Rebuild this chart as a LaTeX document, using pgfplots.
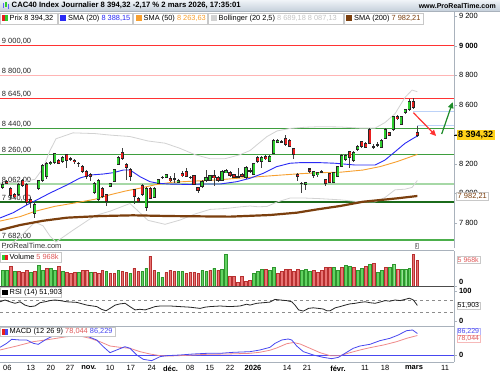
\documentclass[border=0pt]{standalone}
\usepackage{fontspec}
\setmainfont{Liberation Sans}
\usepackage{pgfplots}
\usepackage{pgfplotstable}
\pgfplotsset{compat=1.18}
\usetikzlibrary{arrows.meta}

\definecolor{cgreen}{HTML}{2ECC2E}
\definecolor{cred}{HTML}{E81E1E}
\definecolor{wick}{HTML}{404040}
\definecolor{smablue}{HTML}{2A2AF5}
\definecolor{smaorange}{HTML}{F7A030}
\definecolor{smabrown}{HTML}{7B3F0E}
\definecolor{bollgray}{HTML}{D2D2D2}
\definecolor{bolltext}{HTML}{C4C4C4}
\definecolor{axgray}{HTML}{A9B2BC}
\definecolor{boxgray}{HTML}{C8C8C8}
\definecolor{lvred}{HTML}{FF3333}
\definecolor{lvpink}{HTML}{FFB4B4}
\definecolor{lvgreen}{HTML}{3E9E3E}
\definecolor{lvlgreen}{HTML}{A6D8A6}
\definecolor{lvdgreen}{HTML}{1B6B1B}
\definecolor{lvgreenb}{HTML}{4CAF4C}
\definecolor{lblue}{HTML}{BCD2F8}
\definecolor{arrowgreen}{HTML}{1E8C2A}
\definecolor{vgreen}{HTML}{62D262}
\definecolor{vgreenE}{HTML}{2E962E}
\definecolor{vred}{HTML}{E87474}
\definecolor{vredE}{HTML}{B83030}
\definecolor{vredtext}{HTML}{E05A5A}
\definecolor{macdblue}{HTML}{4848F0}
\definecolor{macdred}{HTML}{F08A8A}
\definecolor{macdredtext}{HTML}{E05A5A}
\definecolor{ybox}{HTML}{FFD21A}
\definecolor{hdrtop}{HTML}{F0F4F8}
\definecolor{hdrbot}{HTML}{C5D0DB}

\newcommand{\fs}{\fontsize{7.5}{8}\selectfont}
\newcommand{\fl}{\fontsize{7.4}{8}\selectfont}

\pgfplotsset{panel/.style={scale only axis, anchor=south west, width=454pt,
  xmin=-0.68, xmax=113.19, axis y line*=right,
  axis line style={draw=axgray, line width=0.8pt, -},
  tick align=outside, major tick length=3pt,
  y tick style={draw=axgray, line width=0.6pt},
  yticklabel style={font=\fs, text=black, xshift=-1.5pt}}}

\pgfplotstableread{
i O H L C c
0 8040 8075 8030 8060 1
1 8080 8090 8060 8070 0
2 8030 8040 7960 7985 0
3 7990 8000 7965 7980 0
4 7990 8070 7985 8060 1
5 8085 8095 8040 8055 0
6 8060 8070 7920 7935 0
7 7960 7975 7900 7935 0
8 7865 7935 7830 7925 1
9 8030 8090 8020 8085 1
10 8090 8200 8080 8190 1
11 8115 8215 8100 8205 1
12 8205 8220 8195 8212 1
13 8210 8275 8200 8268 1
14 8225 8235 8200 8205 0
15 8215 8255 8205 8240 1
16 8265 8270 8170 8220 0
17 8235 8245 8220 8230 0
18 8225 8235 8200 8215 0
19 8205 8215 8180 8200 0
20 8185 8195 8135 8145 0
21 8150 8160 8100 8115 0
22 8130 8140 8085 8115 0
23 8005 8080 7995 8070 1
24 7960 8095 7950 8085 1
25 8035 8045 7970 7980 0
26 7990 7995 7915 7945 0
27 8045 8070 8040 8065 1
28 8080 8165 8075 8160 1
29 8195 8255 8190 8245 1
30 8275 8310 8230 8235 0
31 8195 8205 8090 8175 0
32 8160 8175 8085 8115 0
33 8025 8030 7930 7980 0
34 7965 7975 7935 7945 0
35 8050 8060 7985 7990 0
36 7905 8040 7880 8035 1
37 8035 8040 7960 7965 0
38 7975 8040 7965 8030 1
39 8070 8100 8065 8095 1
40 8105 8120 8100 8110 1
41 8110 8130 8105 8125 1
42 8100 8115 8075 8085 0
43 8095 8140 8070 8100 1
44 8075 8095 8070 8090 1
45 8135 8150 8110 8120 0
46 8150 8175 8110 8115 0
47 8110 8120 8095 8105 0
48 8120 8125 8055 8060 0
49 8040 8045 8000 8020 0
50 8045 8090 8035 8080 1
51 8085 8160 8075 8105 1
52 8090 8125 8085 8120 1
53 8120 8155 8050 8105 0
54 8110 8120 8080 8090 0
55 8090 8160 8085 8150 1
56 8140 8165 8135 8155 1
57 8140 8150 8115 8120 0
58 8125 8130 8105 8110 0
59 8112 8170 8105 8116 1
60 8130 8135 8110 8115 0
61 8105 8185 8100 8175 1
62 8155 8170 8140 8150 0
63 8130 8205 8125 8200 1
64 8245 8255 8205 8215 0
65 8215 8250 8175 8240 1
66 8250 8260 8225 8235 0
67 8215 8260 8210 8250 1
68 8270 8365 8265 8360 1
69 8345 8370 8340 8360 1
70 8352 8360 8340 8348 0
71 8370 8395 8325 8330 0
72 8360 8370 8315 8320 0
73 8305 8310 8235 8260 0
74 8130 8135 8085 8115 0
75 8070 8075 8000 8065 0
76 8060 8080 8020 8075 1
77 8165 8170 8140 8150 0
78 8120 8150 8105 8145 1
79 8125 8145 8110 8140 1
80 8145 8160 8135 8148 1
81 8095 8100 8050 8070 0
82 8135 8140 8070 8075 0
83 8075 8145 8070 8140 1
84 8115 8185 8110 8180 1
85 8185 8265 8180 8255 1
86 8230 8265 8220 8255 1
87 8285 8290 8175 8240 0
88 8220 8285 8210 8280 1
89 8295 8330 8290 8320 1
90 8350 8355 8310 8320 0
91 8340 8350 8305 8312 0
92 8435 8445 8335 8340 0
93 8320 8335 8300 8315 0
94 8325 8345 8315 8330 1
95 8310 8365 8305 8360 1
96 8375 8440 8370 8435 1
97 8410 8415 8390 8395 0
98 8430 8525 8425 8520 1
99 8520 8530 8495 8505 0
100 8470 8525 8465 8520 1
101 8545 8570 8540 8565 1
102 8565 8640 8560 8625 1
103 8625 8645 8570 8580 0
104 8415 8465 8385 8394.32 0
}\candles

\begin{document}
\begin{tikzpicture}[x=1pt,y=1pt]
\useasboundingbox (0,0) rectangle (500,375);
\fill[white] (0,0) rectangle (500,375);

% ================= MAIN PRICE PANEL =================
\begin{axis}[panel, at={(0pt,127pt)}, height=237pt, axis x line=none,
  ymin=7629.4, ymax=9236.2,
  ytick={7800,8000,8200,8400,8600,8800,9000,9200},
  yticklabels={7 800,8 000,8 200,{},8 600,8 800,\textbf{9 000},9 200}]
% support / resistance levels
\addplot[lvred, line width=1pt] coordinates {(-0.68,9000) (113.19,9000)};
\addplot[lvpink, line width=1.6pt] coordinates {(-0.68,8800) (113.19,8800)};
\addplot[lvred, line width=1pt] coordinates {(-0.68,8645) (113.19,8645)};
\addplot[lvgreen, line width=1pt] coordinates {(-0.68,8440) (113.19,8440)};
\addplot[lvgreen, line width=1pt] coordinates {(-0.68,8260) (113.19,8260)};
\addplot[lvlgreen, line width=1.6pt] coordinates {(-0.68,8062) (113.19,8062)};
\addplot[lvdgreen, line width=1.6pt] coordinates {(-0.68,7940) (113.19,7940)};
\addplot[lvgreenb, line width=1.6pt] coordinates {(-0.68,7682) (113.19,7682)};
\node[anchor=south west, inner sep=1pt, font=\fs, text=black!85] at (axis cs:-0.5,9000) {9 000,00};
\node[anchor=south west, inner sep=1pt, font=\fs, text=black!85] at (axis cs:-0.5,8800) {8 800,00};
\node[anchor=south west, inner sep=1pt, font=\fs, text=black!85] at (axis cs:-0.5,8645) {8 645,00};
\node[anchor=south west, inner sep=1pt, font=\fs, text=black!85] at (axis cs:-0.5,8440) {8 440,00};
\node[anchor=south west, inner sep=1pt, font=\fs, text=black!85] at (axis cs:-0.5,8260) {8 260,00};
\node[anchor=south west, inner sep=1pt, font=\fs, text=black!85] at (axis cs:-0.5,8062) {8 062,00};
\node[anchor=south west, inner sep=1pt, font=\fs, text=black!85] at (axis cs:-0.5,7940) {7 940,00};
\node[anchor=south west, inner sep=1pt, font=\fs, text=black!85] at (axis cs:-0.5,7682) {7 682,00};
% Bollinger bands
\addplot[bollgray, line width=0.8pt] coordinates {(-0.68,8070) (4.34,8075) (8.1,8095) (10.11,8170) (11.86,8290) (13.37,8370) (17.63,8410) (23.15,8405) (26.91,8395) (31.93,8385) (36.44,8355) (40.71,8340) (44.47,8305) (48.23,8262) (51.99,8235) (55.76,8235) (59.52,8262) (62.03,8290) (64.03,8335) (66.29,8385) (68.8,8423) (72.06,8440) (75.82,8448) (79.58,8452) (84.6,8450) (89.62,8442) (93.38,8442) (95.89,8480) (98.4,8540) (100.9,8650) (102.66,8700) (104,8689)};
\addplot[bollgray, line width=0.8pt] coordinates {(-0.68,7596) (4.34,7705) (8.1,7805) (10.11,7780) (11.86,7710) (13.37,7670) (17.63,7750) (23.15,7849) (26.91,7879) (31.93,7931) (36.44,7817) (40.71,7790) (44.47,7819) (48.23,7860) (51.99,7891) (55.76,7897) (59.52,7908) (62.03,7914) (64.03,7909) (66.29,7911) (68.8,7941) (72.06,7968) (75.82,7968) (79.58,7964) (84.6,7956) (89.62,7942) (93.38,7942) (95.89,7972) (98.4,8024) (100.9,8028) (102.66,8040) (104,8087)};
% SMA 200
\addplot[smabrown, line width=2.2pt] coordinates {(-0.68,7751) (4.34,7785) (10.11,7814) (16.13,7835) (24.4,7846) (32.68,7851) (41.96,7846) (57.01,7842) (67.04,7853) (73.81,7869) (78.83,7891) (84.6,7914) (90.37,7943) (98.9,7966) (104,7982)};
% SMA 50
\addplot[smaorange, line width=0.9pt] coordinates {(-0.68,7812) (4.34,7842) (8.1,7878) (13.12,7912) (18.13,7935) (23.15,7960) (26.91,7990) (30.67,8015) (34.44,8035) (38.2,8058) (42.46,8075) (49.49,8085) (53.25,8090) (60.27,8105) (68.8,8122) (74.57,8133) (79.58,8140) (84.6,8143) (90.37,8158) (94.63,8181) (98.9,8215) (104,8264)};
% SMA 20
\addplot[smablue, line width=0.9pt] coordinates {(-0.68,7833) (2.66,7869) (6.02,7921) (8.53,7955) (11.86,8002) (16.05,8056) (19.39,8104) (21.9,8124) (25.23,8131) (27.74,8140) (30.25,8158) (31.93,8158) (34.44,8113) (36.94,8079) (39.03,8068) (41.96,8063) (46.98,8060) (50.31,8063) (54.5,8063) (58.69,8079) (62.03,8102) (65.36,8136) (68.72,8181) (72.06,8204) (74.57,8208) (79.58,8208) (83.35,8204) (88.36,8192) (93.38,8192) (95.89,8226) (98.4,8282) (100.9,8339) (103.41,8380) (104,8388)};
% candles: wicks
\addplot[draw=none, mark=none, forget plot,
  error bars/.cd, y dir=both, y explicit, error mark=none,
  error bar style={draw=wick, line width=0.8pt}]
  table[x=i, y=C, y error plus expr={\thisrow{H}-\thisrow{C}}, y error minus expr={\thisrow{C}-\thisrow{L}}] {\candles};
% candles: outline
\addplot[draw=none, mark=none, forget plot,
  error bars/.cd, y dir=both, y explicit, error mark=none,
  error bar style={draw=black!85, line width=3.2pt}]
  table[x=i, y expr={(\thisrow{O}+\thisrow{C})/2}, y error plus expr={abs(\thisrow{C}-\thisrow{O})/2+3.4}, y error minus expr={abs(\thisrow{C}-\thisrow{O})/2+3.4}] {\candles};
% candles: green bodies
\addplot[draw=none, mark=none, forget plot,
  error bars/.cd, y dir=both, y explicit, error mark=none,
  error bar style={draw=cgreen, line width=2pt}]
  table[x=i, y expr={(\thisrow{O}+\thisrow{C})/2}, y error plus expr={\thisrow{c}*max(abs(\thisrow{C}-\thisrow{O})/2-3.4,0)}, y error minus expr={\thisrow{c}*max(abs(\thisrow{C}-\thisrow{O})/2-3.4,0)}] {\candles};
% candles: red bodies
\addplot[draw=none, mark=none, forget plot,
  error bars/.cd, y dir=both, y explicit, error mark=none,
  error bar style={draw=cred, line width=2pt}]
  table[x=i, y expr={(\thisrow{O}+\thisrow{C})/2}, y error plus expr={(1-\thisrow{c})*max(abs(\thisrow{C}-\thisrow{O})/2-3.4,0)}, y error minus expr={(1-\thisrow{c})*max(abs(\thisrow{C}-\thisrow{O})/2-3.4,0)}] {\candles};
% light blue reference lines
\addplot[lblue, line width=0.9pt] coordinates {(103,8554) (113.19,8554)};
\addplot[lblue, line width=0.9pt] coordinates {(104,8463) (113.19,8463)};
% arrows
\addplot[lvred, line width=1.2pt, -{Triangle[length=6pt,width=5.5pt]}] coordinates {(103.0,8547) (108.7,8389)};
\addplot[arrowgreen, line width=1.2pt, -{Triangle[length=6pt,width=5.5pt]}] coordinates {(110.1,8402) (112.85,8618)};
\end{axis}

% ================= VOLUME PANEL =================
\begin{axis}[panel, at={(0pt,89pt)}, height=35pt, axis x line=none, ymin=0, ymax=8034,
  ytick={0}, yticklabels={\textbf{0}}, yticklabel style={yshift=4pt},
  ybar, bar width=2.6pt]
\addplot[fill=vgreen, draw=vgreenE, line width=0.4pt, bar shift=0pt] coordinates {
(0,3519) (1,3519) (3,3290) (7,3060) (9,4743) (10,3519) (12,3978) (13,3519) (15,3443) (19,3137) (22,3060) (26,3290) (29,3519) (32,2907) (35,3290) (36,4055) (39,3060) (40,1989) (44,3366) (45,3366) (50,3519) (51,3290) (53,4055) (55,3825) (56,7268) (63,2907) (64,3290) (65,3825) (67,3519) (68,4284) (75,3672) (76,3825) (77,3290) (83,4284) (84,3672) (86,4743) (87,4437) (89,3519) (90,4055) (92,4973) (94,3137) (95,3519) (97,4284) (98,5049) (100,3825) (101,3825) (102,4055)};
\addplot[fill=vred, draw=vredE, line width=0.4pt, bar shift=0pt] coordinates {
(2,4437) (4,3443) (5,3060) (6,3672) (8,3443) (11,4055) (14,4437) (16,3137) (17,2907) (18,3213) (20,3519) (21,3519) (23,3213) (24,2907) (25,3519) (27,2907) (28,2984) (30,3443) (31,3213) (33,4055) (34,3290) (37,6885) (38,3519) (41,3060) (42,3519) (43,3290) (46,2907) (47,3060) (48,3213) (49,2907) (52,3519) (54,3672) (57,2295) (58,2142) (59,765) (60,2142) (61,995) (62,1224) (66,3825) (69,2907) (70,3443) (71,3825) (72,3825) (73,3290) (74,3825) (78,3519) (79,3213) (80,3672) (81,4284) (82,4284) (85,4284) (88,4284) (91,4437) (93,5202) (96,4284) (99,3825) (103,7344) (104,5968)};
\end{axis}

% ================= RSI PANEL =================
\begin{axis}[panel, at={(0pt,49pt)}, height=40pt, axis x line=none, ymin=-16.67, ymax=116.67,
  ytick={0,100}, yticklabels={\textbf{0},\textbf{100}}]
\addplot[black!45, dashed, line width=0.6pt] coordinates {(-0.68,70) (113.19,70)};
\addplot[black!45, dashed, line width=0.6pt] coordinates {(-0.68,30) (113.19,30)};
\addplot[black!85, line width=0.8pt] coordinates {(-0.68,64) (0.58,70) (1.83,64) (3.08,59) (4.34,64) (5.59,53) (6.85,48) (8.1,50) (9.36,61) (10.6,64) (11.9,68) (13.1,70) (14.4,68) (16.1,64) (18.6,62) (21.1,53) (23.6,48) (24.8,39) (25.9,34) (26.9,42) (28.2,53) (29.4,57) (30.7,59) (31.9,48) (33.2,37) (34.4,39) (35.7,37) (36.9,42) (38.2,48) (39.5,50) (42,50) (44.5,48) (47,46) (49.5,42) (50.7,46) (52,48) (54.5,50) (57,48) (59.5,50) (61.2,56) (62,53) (63.7,59) (65.4,61) (67,63) (68.3,72) (69.6,70) (71.2,68) (72.5,64) (73.3,53) (74.2,37) (75.4,33) (76.7,42) (77.9,44) (79.2,42) (80.4,40) (81.3,34) (82.1,34) (83.4,44) (84.6,48) (85.9,53) (87.1,57) (88.4,59) (89.6,62) (90.9,64) (92.1,61) (93.4,59) (94.6,63) (95.9,68) (97.1,66) (98.4,70) (99.7,68) (100.9,72) (102,76) (103,70) (104,51.9)};
\end{axis}

% ================= MACD PANEL =================
\begin{axis}[panel, at={(0pt,13pt)}, height=36pt, ymin=-28, ymax=116,
  axis x line*=bottom, x tick style={draw=none},
  ytick={0}, yticklabels={\textbf{0}},
  xtick={1.18,7.05,12.06,16.88,21.6,26.91,32.13,37.37,42.09,46.98,51.94,57.01,62.78,71.31,76.32,84.1,90.87,95.89,103.16,110.94},
  xticklabels={06,13,20,27,\textbf{nov.},10,17,24,\textbf{déc.},08,15,22,\textbf{2026},14,21,\textbf{févr.},11,18,\textbf{mars},11},
  xticklabel style={font=\fs, text=black, yshift=3pt}]
\addplot[macdblue, line width=0.9pt] coordinates {(-0.68,0) (113.19,0)};
\addplot[macdred, line width=0.8pt] coordinates {(-0.68,20) (3.51,36) (7.68,53.3) (11.86,62.7) (16.05,73.3) (19.39,76) (21.9,66.7) (24.4,53.3) (26.91,36) (29.42,30.7) (31.93,26.7) (34.44,13.3) (36.94,4) (39.45,-2.7) (41.96,-4) (46.15,-1.3) (51.17,2.7) (56.18,4) (62.03,6.7) (64.5,11) (67,19) (68.7,28) (71.2,45) (72.9,50) (74.6,44) (77.1,26.7) (79.6,9.3) (82.1,-2.7) (84.6,-2.7) (87.1,9.3) (89.6,20) (92.1,29.3) (95.5,40) (98.8,53.3) (101.3,66.7) (104,78)};
\addplot[macdblue, line width=0.8pt] coordinates {(-0.68,30.7) (1.0,46.7) (2.25,62.7) (4.34,60) (6.01,60) (7.68,46.7) (8.93,42.7) (10.61,60) (11.86,70.7) (14.37,86.7) (16.88,92) (19.39,86.7) (21.48,73.3) (23.58,60) (25.23,33.3) (26.91,9.3) (28.58,20) (30.67,33.3) (31.93,26.7) (33.61,0) (35.27,-17.3) (37.37,-22.7) (39.45,-6.7) (41.13,-2.7) (44.47,0) (47.8,4) (51.17,6.7) (54.5,6.7) (57.84,10.7) (62.03,13.3) (64.5,20) (67.04,30.7) (68.3,46.7) (69.97,60) (71.6,64) (72.5,60) (73.74,36) (75.4,13.3) (77.9,0) (80.4,-9.3) (82.5,-14.7) (84.2,-9.3) (85.85,6.7) (87.9,26.7) (89.6,36) (92.1,42.7) (94.6,57.3) (97.1,66.7) (99.2,80) (101.3,97.3) (102.8,100) (104,86.2)};
\end{axis}

% ================= OVERLAYS =================
\draw[axgray, line width=0.8pt] (0,124.5) -- (454,124.5);
\draw[black!70, line width=0.8pt] (0,89) -- (454,89);
\draw[axgray, line width=0.8pt] (0,49) -- (454,49);
% header bar
\shade[top color=hdrtop, bottom color=hdrbot] (0,364) rectangle (500,375);
\draw[axgray, line width=0.6pt] (0,364) -- (500,364);
\fill[smablue!75] (2.5,366.5) rectangle (4,371.5);
\fill[cgreen] (5,367.5) rectangle (6.5,373);
\fill[smablue!75] (7.5,366) rectangle (9,371);
\node[anchor=west, inner sep=0, font=\fontsize{7.7}{8}\selectfont\bfseries] at (11.5,369.3) {CAC40 Index Journalier 8 394,32 -2,17 \% 2 mars 2026, 17:35:01};
\node[anchor=east, inner sep=0, font=\fontsize{7}{8}\selectfont\bfseries] at (496,369.3) {www.ProRealTime.com};
% legend row
\draw[boxgray, fill=white] (0.5,351) rectangle (57,361.7);
\fill[cred] (2,353.5) rectangle (4.8,359.5); \fill[cgreen] (4.8,353.5) rectangle (7.6,359.5);
\node[anchor=west, inner sep=0, font=\fl] at (9.5,356.3) {Prix 8 394,32};
\draw[boxgray, fill=white] (58,351) rectangle (132.5,361.7);
\fill[smablue] (60,353.5) rectangle (66,359.5);
\node[anchor=west, inner sep=0, font=\fl] at (68,356.3) {SMA (20) \textcolor{smablue}{8 388,15}};
\draw[boxgray, fill=white] (133.5,351) rectangle (207.5,361.7);
\fill[smaorange] (135.5,353.5) rectangle (141.5,359.5);
\node[anchor=west, inner sep=0, font=\fl] at (143.5,356.3) {SMA (50) \textcolor{smaorange}{8 263,63}};
\draw[boxgray, fill=white] (208.5,351) rectangle (343,361.7);
\fill[bollgray] (210.5,353.5) rectangle (216.5,359.5);
\node[anchor=west, inner sep=0, font=\fl] at (218.5,356.3) {Bollinger (20 2,5) \textcolor{bolltext}{8 689,18 8 087,13}};
\draw[boxgray, fill=white] (344,351) rectangle (423,361.7);
\fill[smabrown] (346,353.5) rectangle (352,359.5);
\node[anchor=west, inner sep=0, font=\fl] at (354,356.3) {SMA (200) \textcolor{smabrown}{7 982,21}};
% panel captions
\node[anchor=west, inner sep=0, font=\fs, text=black!80] at (1.5,129) {ProRealTime.com};
\node[draw=gray!70, fill=white, inner sep=0.8pt, font=\fontsize{5}{5}\selectfont] at (417,129.5) {i};
\draw[boxgray, fill=white] (0.5,113) rectangle (61.5,122.5);
\fill[cgreen] (2,115) rectangle (4.8,120.5); \fill[cred] (4.8,115) rectangle (7.6,120.5);
\node[anchor=west, inner sep=0, font=\fl] at (9.5,117.8) {Volume \textcolor{vredtext}{5 968k}};
\draw[boxgray, fill=white] (0.5,78) rectangle (61.5,87.5);
\fill[black] (2,79.8) rectangle (7.6,85.5);
\node[anchor=west, inner sep=0, font=\fl] at (9.5,82.7) {RSI (14) 51,903};
\draw[boxgray, fill=white] (0.5,38.5) rectangle (115,48);
\fill[cred] (2,40.5) rectangle (4.8,46); \fill[macdblue] (4.8,40.5) rectangle (7.6,46);
\node[anchor=west, inner sep=0, font=\fl] at (9.5,43.2) {MACD (12 26 9) \textcolor{macdredtext}{78,044} \textcolor{macdblue}{86,229}};
% right-side value boxes
\draw[black, line width=0.6pt] (454,239.8) -- (457,239.8);
\node[fill=ybox, inner xsep=1.5pt, inner ysep=1.2pt, anchor=west, font=\fontsize{9}{9}\selectfont\bfseries] at (456.5,239.8) {8 394,32};
\node[draw=boxgray, fill=white, inner xsep=1.5pt, inner ysep=1pt, anchor=west, font=\fs, text=smabrown] at (456,179) {7 982,21};
\node[draw=boxgray, fill=white, inner xsep=1pt, inner ysep=0.8pt, anchor=west, font=\fontsize{7}{7}\selectfont, text=vredtext] at (456.5,115) {5 968k};
\node[draw=boxgray, fill=white, inner xsep=1pt, inner ysep=0.8pt, anchor=west, font=\fontsize{7}{7}\selectfont, text=black] at (456.5,69.5) {51,903};
\node[draw=macdblue!40, fill=white, inner xsep=1pt, inner ysep=0.6pt, anchor=west, font=\fontsize{7}{7}\selectfont, text=macdblue] at (456.5,43.5) {86,229};
\node[draw=macdred!60, fill=white, inner xsep=1pt, inner ysep=0.6pt, anchor=west, font=\fontsize{7}{7}\selectfont, text=macdredtext] at (456.5,36.3) {78,044};
\end{tikzpicture}
\end{document}
